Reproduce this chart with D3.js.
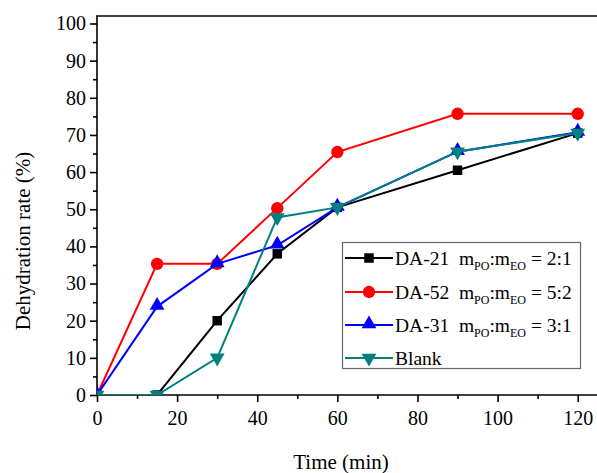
<!DOCTYPE html>
<html>
<head>
<meta charset="utf-8">
<script src="https://cdn.jsdelivr.net/npm/d3@7"></script>
<style>
  body { margin: 0; background: #fff; }
  svg text { font-family: "Liberation Serif", "Times New Roman", Times, "DejaVu Serif", serif !important; fill: #000; }
</style>
</head>
<body>
<svg id="chart" width="597" height="473"></svg>
<script>
// data
let times = [0, 15, 30, 45, 60, 90, 120];
let da21 = [0, 0, 20, 38, 50.5, 60.5, 70.5];
let da52 = [0, 35.3, 35.3, 50.3, 65.4, 75.7, 75.7];
let da31 = [0, 23.8, 35.3, 40.3, 50.5, 65.5, 70.7];
let blank = [0, 0, 10, 47.8, 50.5, 65.5, 70.5];

let xTicks = [0, 20, 40, 60, 80, 100, 120];
let yTicks = [0, 10, 20, 30, 40, 50, 60, 70, 80, 90, 100];

let margin = { top: 16, left: 97, bottom: 395 };

let svg = d3.select('#chart');

let x = d3.scaleLinear()
    .domain([0, 125])
    .range([margin.left, margin.left + 125 * 4.006]);

let y = d3.scaleLinear()
    .domain([0, 100])
    .range([395, 23.5]);

// clip for the data so markers sitting on the axis get cut
svg.append('defs').append('clipPath')
    .attr('id', 'plotclip')
  .append('rect')
    .attr('x', margin.left)
    .attr('y', margin.top)
    .attr('width', 600)
    .attr('height', 395 - margin.top);

// frame top
svg.append('line')
    .attr('x1', margin.left - 1).attr('x2', 597)
    .attr('y1', margin.top).attr('y2', margin.top)
    .attr('stroke', '#000').attr('stroke-width', 1.6);

// minor ticks
svg.append('g')
    .attr('transform', 'translate(0,395)')
    .call(d3.axisBottom(x).tickValues([10, 30, 50, 70, 90, 110]).tickSize(4).tickFormat(''))
    .call(g => g.select('.domain').remove())
    .selectAll('line').attr('stroke-width', 1.6);

svg.append('g')
    .attr('transform', `translate(${margin.left},0)`)
    .call(d3.axisLeft(y).tickValues(d3.range(5, 100, 10)).tickSize(4).tickFormat(''))
    .call(g => g.select('.domain').remove())
    .selectAll('line').attr('stroke-width', 1.6);

let xAxis = svg.append('g')
    .attr('transform', 'translate(0,395)')
    .call(d3.axisBottom(x).tickValues(xTicks).tickSizeInner(7).tickSizeOuter(0).tickPadding(9));

let yAxis = svg.append('g')
    .attr('transform', `translate(${margin.left},0)`)
    .call(d3.axisLeft(y).tickValues(yTicks).tickSizeInner(7).tickSizeOuter(0).tickPadding(4));

[xAxis, yAxis].forEach(g => {
  g.attr('font-family', null).attr('font-size', null);
  g.select('.domain').attr('stroke-width', 1.6);
  g.selectAll('.tick line').attr('stroke-width', 1.6);
  g.selectAll('.tick text').style('font-size', '20px');
});
xAxis.select('.domain').attr('d', `M${margin.left},0H597`);
yAxis.select('.domain').attr('d', `M0,395V${margin.top}`);

svg.append('text')
    .attr('x', 341)
    .attr('y', 469)
    .attr('text-anchor', 'middle')
    .style('font-size', '21px')
    .text('Time (min)');

svg.append('text')
    .attr('transform', 'translate(30,241) rotate(-90)')
    .attr('text-anchor', 'middle')
    .style('font-size', '21px')
    .text('Dehydration rate (%)');

let series = [
  { name: 'DA-21', values: da21, color: '#000000', marker: 'square', ratio: '2:1' },
  { name: 'DA-52', values: da52, color: '#ff0000', marker: 'circle', ratio: '5:2' },
  { name: 'DA-31', values: da31, color: '#0000ff', marker: 'up', ratio: '3:1' },
  { name: 'Blank', values: blank, color: '#008080', marker: 'down', ratio: null }
];

let symbols = {
  square: d3.symbol().type(d3.symbolSquare).size(90),
  circle: d3.symbol().type(d3.symbolCircle).size(120),
  up: d3.symbol().type(d3.symbolTriangle).size(95),
  down: d3.symbol().type(d3.symbolTriangle).size(95)
};

function drawMarker(g, s, cx, cy) {
  let p = g.append('path')
      .attr('d', symbols[s.marker]())
      .attr('fill', s.color);
  if (s.marker === 'down') {
    p.attr('transform', `translate(${cx},${cy}) rotate(180)`);
  } else if (s.marker === 'up') {
    p.attr('transform', `translate(${cx},${cy - 1})`);
  } else {
    p.attr('transform', `translate(${cx},${cy})`);
  }
}

let plot = svg.append('g').attr('clip-path', 'url(#plotclip)');

let line = d3.line()
    .x((d, i) => x(times[i]))
    .y(d => y(d));

series.forEach(s => {
  plot.append('path')
      .datum(s.values)
      .attr('fill', 'none')
      .attr('stroke', s.color)
      .attr('stroke-width', 2)
      .attr('d', line);
  s.values.forEach((v, i) => drawMarker(plot, s, x(times[i]), y(v)));
});

// legend
let legend = svg.append('g');
legend.append('rect')
    .attr('x', 342.5).attr('y', 242.5)
    .attr('width', 238).attr('height', 126)
    .attr('fill', '#fff')
    .attr('stroke', '#666').attr('stroke-width', 1.2);

let rowY = [258, 292, 325, 358];
series.forEach((s, i) => {
  let yy = rowY[i];
  legend.append('line')
      .attr('x1', 345).attr('x2', 393)
      .attr('y1', yy).attr('y2', yy)
      .attr('stroke', s.color).attr('stroke-width', 2);
  drawMarker(legend, s, 369, yy);
  let t = legend.append('text')
      .attr('x', 395)
      .attr('y', yy + 7)
      .style('font-size', '19.5px')
      .attr('xml:space', 'preserve');
  if (s.ratio) {
    t.append('tspan').text(s.name + '  m');
    t.append('tspan').attr('dy', 5).style('font-size', '12px').text('PO');
    t.append('tspan').attr('dy', -5).text(':m');
    t.append('tspan').attr('dy', 5).style('font-size', '12px').text('EO');
    t.append('tspan').attr('dy', -5).text(' = ' + s.ratio);
  } else {
    t.text(s.name);
  }
});
</script>
</body>
</html>
